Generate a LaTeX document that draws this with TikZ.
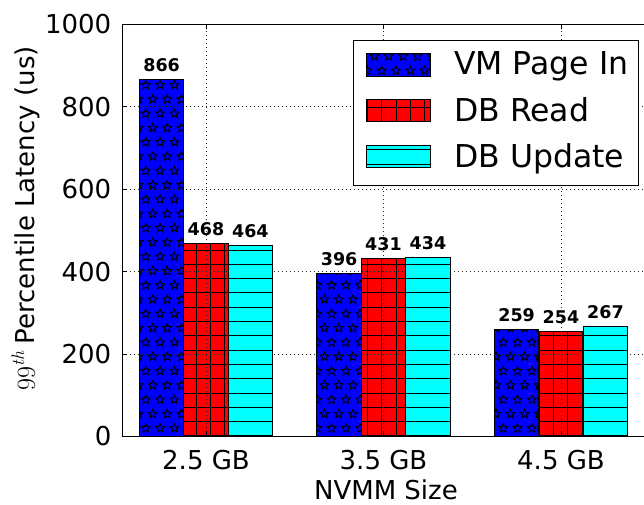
\documentclass[tikz,border=0pt]{standalone}
\usepackage{fontspec}
\setmainfont{DejaVu Sans}
\newfontfamily\lmfont{Latin Modern Roman}
\definecolor{vmblue}{RGB}{0,0,255}
\definecolor{vmred}{RGB}{255,0,0}
\definecolor{vmcyan}{RGB}{0,255,255}
\tikzset{
  barline/.style={draw=black, line width=1pt},
  hatchline/.style={black, line width=0.9pt},
  gridline/.style={black!85, line width=0.9pt, dash pattern=on 1.3pt off 2.7pt},
  spine/.style={black, line width=1pt},
  ticklab/.style={font=\fontsize{26}{30}\selectfont, inner sep=0pt},
  vallab/.style={font=\fontsize{17.5}{20}\selectfont\bfseries, inner sep=0pt, anchor=base},
  legtext/.style={font=\fontsize{31.5}{36}\selectfont, inner sep=0pt, anchor=base west},
}
% star hatch (global phase)
\newcommand\blueBar[4]{%
  \begin{scope}
    \clip (#1,#2) rectangle (#3,#4);
    \fill[vmblue] (#1,#2) rectangle (#3,#4);
    \pgfmathtruncatemacro\rA{floor((420-(#4))/14.3)-1}
    \pgfmathtruncatemacro\rB{ceil((420-(#2))/14.3)+1}
    \pgfmathtruncatemacro\mA{floor(((#1)-160)/14.3)-1}
    \pgfmathtruncatemacro\mB{ceil(((#3)-145)/14.3)+1}
    \foreach \rr in {\rA,...,\rB}{
      \foreach \mm in {\mA,...,\mB}{
        \pgfmathsetmacro\sx{145.7+14.3*\mm+7.15*mod(abs(\rr),2)}
        \pgfmathsetmacro\sy{420-14.3*\rr}
        \draw[hatchline, line width=0.95pt, line join=miter, shift={(\sx,\sy)}]
          (90:4.6)--(126:2.1)--(162:4.6)--(198:2.1)--(234:4.6)--(270:2.1)
          --(306:4.6)--(342:2.1)--(18:4.6)--(54:2.1)--cycle;
      }}
  \end{scope}
  \draw[barline] (#1,#2) rectangle (#3,#4);
}
% plus hatch
\newcommand\redBar[4]{%
  \begin{scope}
    \clip (#1,#2) rectangle (#3,#4);
    \fill[vmred] (#1,#2) rectangle (#3,#4);
    \pgfmathtruncatemacro\mA{floor(((#1)-196)/14.3)}
    \pgfmathtruncatemacro\mB{ceil(((#3)-196)/14.3)}
    \foreach \mm in {\mA,...,\mB}{\draw[hatchline] ({196+14.3*\mm},#2) -- ({196+14.3*\mm},#4);}
    \pgfmathtruncatemacro\kA{floor(((#2)-83.4)/14.3)}
    \pgfmathtruncatemacro\kB{ceil(((#4)-83.4)/14.3)}
    \foreach \kk in {\kA,...,\kB}{\draw[hatchline] (#1,{83.4+14.3*\kk}) -- (#3,{83.4+14.3*\kk});}
  \end{scope}
  \draw[barline] (#1,#2) rectangle (#3,#4);
}
% horizontal hatch
\newcommand\cyanBar[4]{%
  \begin{scope}
    \clip (#1,#2) rectangle (#3,#4);
    \fill[vmcyan] (#1,#2) rectangle (#3,#4);
    \pgfmathtruncatemacro\kA{floor(((#2)-83.4)/14.3)}
    \pgfmathtruncatemacro\kB{ceil(((#4)-83.4)/14.3)}
    \foreach \kk in {\kA,...,\kB}{\draw[hatchline] (#1,{83.4+14.3*\kk}) -- (#3,{83.4+14.3*\kk});}
  \end{scope}
  \draw[barline] (#1,#2) rectangle (#3,#4);
}
\begin{document}
\begin{tikzpicture}[x=1pt,y=1pt]
\useasboundingbox[fill=white] (0,0) rectangle (644,505);

% blue and red bars
\foreach \gc/\va/\vb/\vd [count=\i] in {206/866/468/464,383.5/396/431/434,561/259/254/267}{
  \pgfmathsetmacro\xa{\gc-66.6}
  \pgfmathsetmacro\xb{\gc-22.2}
  \pgfmathsetmacro\xc{\gc+22.2}
  \pgfmathsetmacro\ta{68.5+\va*0.4122}
  \pgfmathsetmacro\tb{68.5+\vb*0.4122}
  \blueBar{\xa}{68.5}{\xb}{\ta}
  \redBar{\xb}{68.5}{\xc}{\tb}
}

% grid
\foreach \v in {200,400,600,800}{
  \draw[gridline] (122,{68.5+\v*0.4122}) -- (650,{68.5+\v*0.4122});
}
\foreach \gc in {206,383.5,561}{
  \draw[gridline] (\gc,68.5) -- (\gc,480.7);
}

% cyan bars and value labels
\foreach \gc/\va/\vb/\vd [count=\i] in {206/866/468/464,383.5/396/431/434,561/259/254/267}{
  \pgfmathsetmacro\xc{\gc+22.2}
  \pgfmathsetmacro\xd{\gc+66.6}
  \pgfmathsetmacro\ta{68.5+\va*0.4122}
  \pgfmathsetmacro\tb{68.5+\vb*0.4122}
  \pgfmathsetmacro\td{68.5+\vd*0.4122}
  \cyanBar{\xc}{68.5}{\xd}{\td}
  \node[vallab] (lab\i a) at ({\gc-44.4},{\ta+8}) {\va};
  \node[vallab] (lab\i b) at ({\gc},{\tb+8}) {\vb};
  \node[vallab] (lab\i d) at ({\gc+44.4},{\td+8}) {\vd};
}

% spines
\draw[spine] (122,480.7) -- (122,68.5) -- (650,68.5);
\draw[spine] (122,480.7) -- (650,480.7);

% y ticks
\foreach \v in {0,200,400,600,800,1000}{
  \draw[spine] (122,{68.5+\v*0.4122}) -- (127,{68.5+\v*0.4122});
  \node[ticklab, anchor=east] (yt\v) at (111.5,{68.5+\v*0.4122}) {\v};
}
% x ticks
\foreach \gc/\lab [count=\i] in {206/2.5 GB,383.5/3.5 GB,561/4.5 GB}{
  \draw[spine] (\gc,68.5) -- (\gc,73.5);
  \draw[spine] (\gc,480.7) -- (\gc,475.7);
  \node[ticklab, anchor=base] (xt\i) at (\gc,35.7) {\lab};
}

% axis labels
\node[ticklab, anchor=base] (xlabel) at (386,5.7) {NVMM Size};
\node[ticklab, anchor=base, rotate=90] (ylabel) at (35,286.5)
  {{\lmfont 99\raisebox{0.42em}{\fontsize{18}{18}\selectfont\itshape th}}\hspace{0.3em}Percentile Latency (us)};

% legend
\draw[black, line width=1pt, fill=white] (353.3,319) rectangle (638.3,464.3);
\blueBar{366}{428.3}{430}{451.7}
\redBar{366}{383.3}{430}{405.7}
\cyanBar{366}{337.3}{430}{359}
\node[legtext] (leg1) at (454,430) {VM Page In};
\node[legtext] (leg2) at (454,383.3) {DB Read};
\node[legtext] (leg3) at (454,337.3) {DB Update};
\end{tikzpicture}
\end{document}
